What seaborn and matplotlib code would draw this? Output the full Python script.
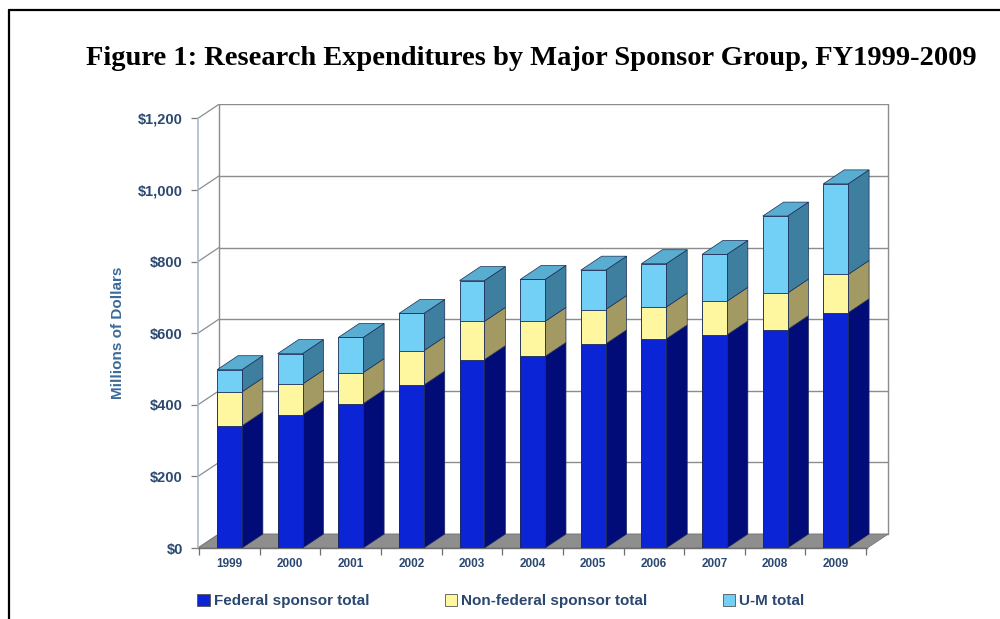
import matplotlib
matplotlib.use("Agg")
import matplotlib.pyplot as plt
from matplotlib.patches import Polygon, Patch
from matplotlib.lines import Line2D
import numpy as np
import pandas as pd
import seaborn as sns

years = ["1999", "2000", "2001", "2002", "2003", "2004", "2005", "2006", "2007", "2008", "2009"]
federal = [341, 372, 403, 455, 526, 535, 570, 584, 595, 610, 657]
nonfederal = [95, 86, 87, 96, 107, 98, 96, 89, 94, 102, 107]
um_total = [62, 85, 98, 104, 114, 117, 110, 121, 131, 215, 253]
series_names = ["Federal sponsor total", "Non-federal sponsor total", "U-M total"]
yticks = [0, 200, 400, 600, 800, 1000, 1200]
ytick_labels = ["$0", "$200", "$400", "$600", "$800", "$1,000", "$1,200"]

front_cols = ["#0A24D6", "#FFF7A0", "#72CFF5"]
side_cols = ["#020C78", "#A29A62", "#3E7FA0"]
top_col = "#58ADD0"
edge = "#1B2A55"
txt_col = "#2B4870"

sns.set_theme(style="white")
plt.rcParams["font.family"] = ["Liberation Sans", "DejaVu Sans"]

fig = plt.figure(figsize=(10, 6.19), dpi=100)
ax = fig.add_axes([0.198, 0.1147, 0.692, 0.7173])

fed = np.array(federal, float)
nf = np.array(nonfederal, float)
um = np.array(um_total, float)
cum1 = fed
cum2 = fed + nf
cum3 = fed + nf + um

df = pd.DataFrame({
    "year": years * 3,
    "value": np.concatenate([cum3, cum2, cum1]),
    "group": ["c3"] * 11 + ["c2"] * 11 + ["c1"] * 11,
})
W = 0.41
sns.barplot(data=df, x="year", y="value", hue="group", hue_order=["c3", "c2", "c1"],
            palette=[front_cols[2], front_cols[1], front_cols[0]], dodge=False,
            saturation=1, width=W, edgecolor=edge, linewidth=0.6, legend=False,
            ax=ax, zorder=5, errorbar=None)

DX, DY = 0.345, 39.0
XL, XR = -0.52, 10.52
YTOP = 1200

# back wall grid lines and perspective lines
gcol = "#8C8C8C"
for v in yticks:
    ax.plot([XL + DX, XR + DX], [v + DY, v + DY], color=gcol, lw=1.0, zorder=1)
    ax.plot([XL, XL + DX], [v, v + DY], color=gcol, lw=0.9, zorder=1)
ax.plot([XL + DX, XL + DX], [DY, YTOP + DY], color=gcol, lw=1.0, zorder=1)
ax.plot([XR + DX, XR + DX], [DY, YTOP + DY], color=gcol, lw=1.0, zorder=1)

# floor
floor = Polygon([[XL, 0], [XR, 0], [XR + DX, DY], [XL + DX, DY]], closed=True,
                facecolor="#8E8E8E", edgecolor="#777777", lw=0.6, zorder=2)
ax.add_patch(floor)

# 3D faces of the bars
bottoms = [np.zeros(11), cum1, cum2]
tops = [cum1, cum2, cum3]
for i in range(11):
    xr = i + W / 2
    xl = i - W / 2
    for k in range(3):
        b, t = bottoms[k][i], tops[k][i]
        side = Polygon([[xr, b], [xr, t], [xr + DX, t + DY], [xr + DX, b + DY]],
                       closed=True, facecolor=side_cols[k], edgecolor=edge, lw=0.5, zorder=4)
        ax.add_patch(side)
    t = cum3[i]
    top = Polygon([[xl, t], [xr, t], [xr + DX, t + DY], [xl + DX, t + DY]],
                  closed=True, facecolor=top_col, edgecolor=edge, lw=0.5, zorder=4)
    ax.add_patch(top)

ax.set_xlim(XL, XR + DX + 0.03)
ax.set_ylim(0, YTOP + DY + 1)

# spines
for s in ["top", "right"]:
    ax.spines[s].set_visible(False)
ax.spines["left"].set_bounds(0, YTOP)
ax.spines["left"].set_color("#A9BCD0")
ax.spines["left"].set_linewidth(1.2)
ax.spines["bottom"].set_bounds(XL, XR)
ax.spines["bottom"].set_color("#6E6E6E")
ax.spines["bottom"].set_linewidth(1.0)

ax.set_yticks(yticks)
ax.set_yticklabels(ytick_labels, fontsize=10.5, fontweight="bold", color=txt_col)
ax.tick_params(axis="y", length=5, width=0.9, color="#7A7A7A", pad=6, left=True)
ax.set_xticks(range(11))
ax.set_xticklabels(years, fontsize=8.5, fontweight="bold", color=txt_col)
ax.tick_params(axis="x", which="major", length=0, pad=7)
ax.set_xticks(np.arange(-0.5, 11, 1.0), minor=True)
ax.tick_params(axis="x", which="minor", length=5, width=0.9, color="#6E6E6E", bottom=True)
ax.set_xlabel("")
ax.set_ylabel("")
ax.grid(False)

fig.text(0.118, 0.462, "Millions of Dollars", rotation=90, ha="center", va="center",
         fontsize=11, fontweight="bold", color="#3A6A9A")

fig.text(0.531, 0.906, "Figure 1: Research Expenditures by Major Sponsor Group, FY1999-2009",
         ha="center", va="center", fontsize=20.5, fontweight="bold",
         family=["Liberation Serif", "DejaVu Serif"], color="black")

handles = [Patch(facecolor=front_cols[k], edgecolor="#555555", lw=0.6) for k in range(3)]
leg = fig.legend(handles, series_names, loc="center", bbox_to_anchor=(0.501, 0.029), ncol=3,
                 frameon=False, handlelength=0.8, handleheight=0.8, handletextpad=0.3,
                 columnspacing=4.9, prop={"size": 11, "weight": "bold"})
for t in leg.get_texts():
    t.set_color(txt_col)

# outer frame
fig.add_artist(Line2D([0.009, 0.009], [0, 1 - 10 / 619], color="black", lw=1.6,
                      transform=fig.transFigure))
fig.add_artist(Line2D([0.009, 1.0], [1 - 10 / 619, 1 - 10 / 619], color="black", lw=1.6,
                      transform=fig.transFigure))

fig.savefig("out.png", dpi=100)
